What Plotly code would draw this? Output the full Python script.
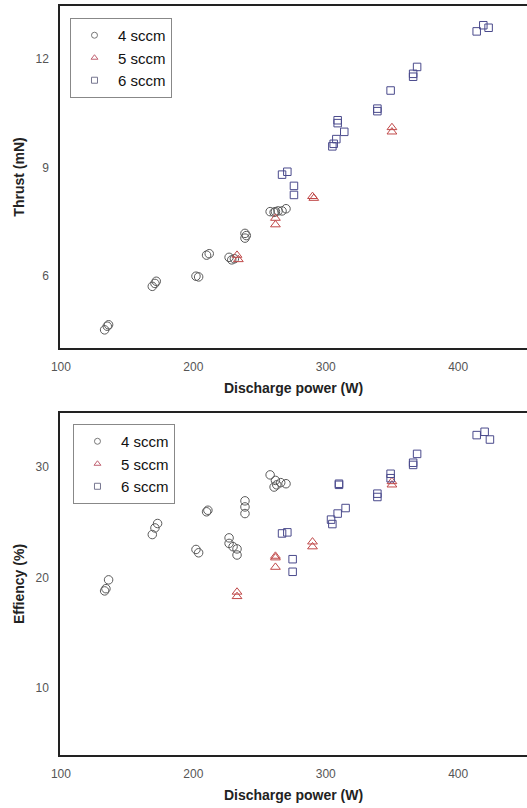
import plotly.graph_objects as go

# ---- Data: Thrust (top panel) ----
thrust_p4 = [133, 135, 136, 169, 171, 172, 202, 204, 210, 212, 227, 229, 231, 239, 239, 240, 258, 261, 262, 264, 267, 270]
thrust_v4 = [4.52, 4.62, 4.66, 5.72, 5.8, 5.86, 6.0, 5.98, 6.58, 6.62, 6.52, 6.45, 6.48, 7.18, 7.05, 7.12, 7.78, 7.76, 7.78, 7.8, 7.8, 7.86]
thrust_p5 = [233, 234, 262, 262, 290, 291, 350, 350]
thrust_v5 = [6.58, 6.46, 7.6, 7.42, 8.2, 8.15, 10.1, 9.98]
thrust_p6 = [267, 271, 276, 276, 305, 306, 308, 314, 309, 309, 339, 339, 349, 366, 366, 369, 414, 419, 423]
thrust_v6 = [8.8, 8.88, 8.49, 8.24, 9.58, 9.65, 9.78, 9.98, 10.3, 10.22, 10.62, 10.55, 11.12, 11.5, 11.58, 11.77, 12.75, 12.92, 12.85]

# ---- Data: Efficiency (bottom panel) ----
eff_p4 = [136, 134, 133, 169, 171, 173, 202, 204, 210, 211, 227, 227, 230, 233, 233, 239, 239, 239, 258, 262, 261, 263, 266, 270]
eff_v4 = [19.8, 19.0, 18.8, 23.9, 24.5, 24.9, 22.55, 22.25, 25.96, 26.1, 23.6, 23.1, 22.8, 22.6, 22.05, 26.95, 26.4, 25.8, 29.3, 28.8, 28.2, 28.4, 28.6, 28.5]
eff_p5 = [233, 233, 262, 262, 262, 290, 290, 350, 350]
eff_v5 = [18.7, 18.3, 21.95, 21.8, 20.95, 23.24, 22.8, 28.7, 28.4]
eff_p6 = [267, 271, 275, 275, 305, 304, 309, 315, 310, 310, 339, 339, 349, 349, 366, 366, 369, 414, 420, 424]
eff_v6 = [24.0, 24.1, 21.67, 20.53, 24.85, 25.25, 25.8, 26.3, 28.4, 28.5, 27.6, 27.3, 29.4, 29.0, 30.4, 30.2, 31.2, 32.9, 33.2, 32.5]

series_names = ["4 sccm", "5 sccm", "6 sccm"]
x_ticks = [100, 200, 300, 400]
thrust_ticks = [6, 9, 12]
eff_ticks = [10, 20, 30]

symbols = ["circle-open", "triangle-up-open", "square-open"]
colors = ["#5a5a5a", "#c04848", "#4a4a8c"]
legend_colors = ["#777777", "#c06070", "#777790"]
sizes = [8.5, 8.5, 7.5]

FONT = "Liberation Sans, Arial, sans-serif"

fig = go.Figure()

panels = [
    ("x", "y", "legend", [(thrust_p4, thrust_v4), (thrust_p5, thrust_v5), (thrust_p6, thrust_v6)]),
    ("x2", "y2", "legend2", [(eff_p4, eff_v4), (eff_p5, eff_v5), (eff_p6, eff_v6)]),
]

for xa, ya, lg, sets in panels:
    for i, (xs, ys) in enumerate(sets):
        fig.add_trace(go.Scatter(
            x=xs, y=ys, mode="markers", name=series_names[i], showlegend=False,
            marker=dict(symbol=symbols[i], color=colors[i], size=sizes[i],
                        line=dict(width=1, color=colors[i])),
            xaxis=xa, yaxis=ya))
    # legend entries with small symbols, as in the reference
    for i in range(3):
        fig.add_trace(go.Scatter(
            x=[None], y=[None], mode="markers", name=series_names[i], showlegend=True,
            marker=dict(symbol=symbols[i], color=legend_colors[i], size=6,
                        line=dict(width=1, color=legend_colors[i])),
            xaxis=xa, yaxis=ya, legend=lg))

axis_common = dict(
    showgrid=False, zeroline=False, showline=True, linecolor="#222222", linewidth=1.5,
    ticks="outside", ticklen=7, tickcolor="rgba(0,0,0,0)",
    tickfont=dict(family=FONT, size=12, color="#555555"),
)
title_font = dict(family=FONT, size=14, color="#222222")

xr = [99.3, 452]
top_dom = [0.5434, 1.0]
bot_dom = [0.0, 0.4566]

legend_common = dict(
    bordercolor="#888888", borderwidth=1, bgcolor="white",
    font=dict(family=FONT, size=15, color="#111111"),
    xanchor="left", yanchor="top", tracegroupgap=0, itemwidth=37,
)

fig.update_layout(
    width=527, height=808,
    margin=dict(l=60, r=0, t=6, b=53),
    paper_bgcolor="white", plot_bgcolor="white",
    xaxis=dict(axis_common, domain=[0, 1], range=xr, tickvals=x_ticks, anchor="y", mirror=True,
               title=dict(text="<b>Discharge power (W)</b>", font=title_font, standoff=10)),
    yaxis=dict(axis_common, domain=top_dom, range=[4.02, 13.45], tickvals=thrust_ticks, anchor="x",
               title=dict(text="<b>Thrust (mN)</b>", font=title_font, standoff=8)),
    xaxis2=dict(axis_common, domain=[0, 1], range=xr, tickvals=x_ticks, anchor="y2", mirror=True,
                title=dict(text="<b>Discharge power (W)</b>", font=title_font, standoff=10)),
    yaxis2=dict(axis_common, domain=bot_dom, range=[3.95, 34.9], tickvals=eff_ticks, anchor="x2",
                title=dict(text="<b>Effiency (%)</b>", font=title_font, standoff=8)),
    legend=dict(legend_common, x=0.0214, y=0.984),
    legend2=dict(legend_common, x=0.0278, y=0.4419),
)

fig.write_html("out.html",
               config={"displayModeBar": False},
               post_script="document.body.style.margin='0';document.body.style.overflow='hidden';")
